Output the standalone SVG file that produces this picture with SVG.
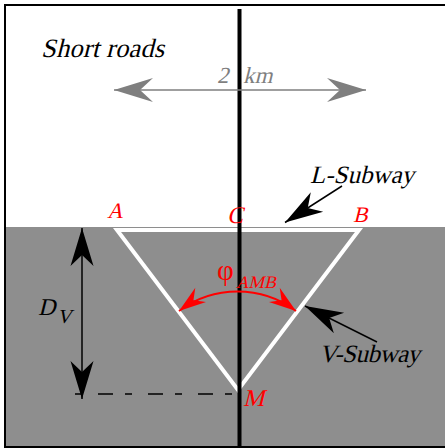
<svg xmlns="http://www.w3.org/2000/svg" width="445" height="448" viewBox="0 0 445 448">
<style>
text{font-family:'Liberation Serif','Times New Roman',serif;font-style:normal}
.red{fill:#ff0000}
.blk{fill:#000000}
.gry{fill:#7f7f7f}
</style>
<defs>
<marker id="ahBlack" markerUnits="userSpaceOnUse" orient="auto-start-reverse" overflow="visible" refX="0" refY="0" markerWidth="1" markerHeight="1">
<path d="M0,0 L-38,-11.5 L-27,0 L-38,11.5 Z" fill="#000"/>
</marker>
<marker id="ahGray" markerUnits="userSpaceOnUse" orient="auto-start-reverse" overflow="visible" refX="0" refY="0" markerWidth="1" markerHeight="1">
<path d="M0,0 L-39,-12 L-26,0 L-39,12 Z" fill="#7f7f7f"/>
</marker>
<marker id="ahRed" markerUnits="userSpaceOnUse" orient="auto-start-reverse" overflow="visible" refX="0" refY="0" markerWidth="1" markerHeight="1">
<path d="M0,0 L-27,-9 L-18,0 L-27,9 Z" fill="#ff0000"/>
</marker>
</defs>
<rect x="0" y="0" width="445" height="448" fill="#ffffff"/>
<g id="ground">
<rect x="5" y="227" width="445" height="220" fill="#8e8e8e"/>
</g>
<rect x="5" y="5" width="450" height="442" fill="none" stroke="#000" stroke-width="2"/>
<g id="subway-triangle">
<polygon points="117,230 359,230 238,390" fill="none" stroke="#ffffff" stroke-width="4" stroke-linejoin="miter"/>
</g>
<g id="road">
<line x1="239.5" y1="9" x2="239.5" y2="446" stroke="#000" stroke-width="4"/>
</g>
<g id="connectors">
<line x1="114" y1="90" x2="366" y2="90" stroke="#7f7f7f" stroke-width="1.5" marker-start="url(#ahGray)" marker-end="url(#ahGray)"/>
<line x1="82" y1="228" x2="82" y2="399" stroke="#000" stroke-width="1.5" marker-start="url(#ahBlack)" marker-end="url(#ahBlack)"/>
<line x1="75" y1="394" x2="237" y2="394" stroke="#000" stroke-width="1.3" stroke-dasharray="15 12 7 16" stroke-dashoffset="27"/>
<line x1="342" y1="186" x2="285" y2="222.5" stroke="#000" stroke-width="1.5" marker-end="url(#ahBlack)"/>
<line x1="377" y1="342" x2="305" y2="306" stroke="#000" stroke-width="1.5" marker-end="url(#ahBlack)"/>
<path d="M179,311 A98,98 0 0 1 296,311" fill="none" stroke="#ff0000" stroke-width="2" marker-start="url(#ahRed)" marker-end="url(#ahRed)"/>
</g>
<g id="labels">
<g transform="translate(41,57) skewX(-14)"><text class="blk" x="0" y="0" font-size="26.5" textLength="123" lengthAdjust="spacing">Short roads</text></g>
<g transform="translate(0,83) skewX(-14)"><text class="gry" font-size="23" y="0"><tspan x="217">2</tspan><tspan x="243">km</tspan></text></g>
<g transform="translate(310,183) skewX(-14)"><text class="blk" x="0" y="0" font-size="25" textLength="104" lengthAdjust="spacing">L-Subway</text></g>
<g transform="translate(319,362) skewX(-14)"><text class="blk" x="0" y="0" font-size="25" textLength="101" lengthAdjust="spacing">V-Subway</text></g>
<g transform="translate(107,218) skewX(-14)"><text class="red" x="0" y="0" font-size="22">A</text></g>
<g transform="translate(227,223) skewX(-14)"><text class="red" x="0" y="0" font-size="24">C</text></g>
<g transform="translate(353,222) skewX(-14)"><text class="red" x="0" y="0" font-size="22">B</text></g>
<g transform="translate(243,406) skewX(-14)"><text class="red" x="0" y="0" font-size="24">M</text></g>
<text class="red" x="217" y="280" font-size="29">φ</text>
<g transform="translate(236,288) skewX(-14)"><text class="red" x="0" y="0" font-size="17.5">AMB</text></g>
<g transform="translate(0,315) skewX(-14)"><text class="blk" font-size="24" y="0"><tspan x="38">D</tspan><tspan x="59" y="8" font-size="20">V</tspan></text></g>
</g>
</svg>
